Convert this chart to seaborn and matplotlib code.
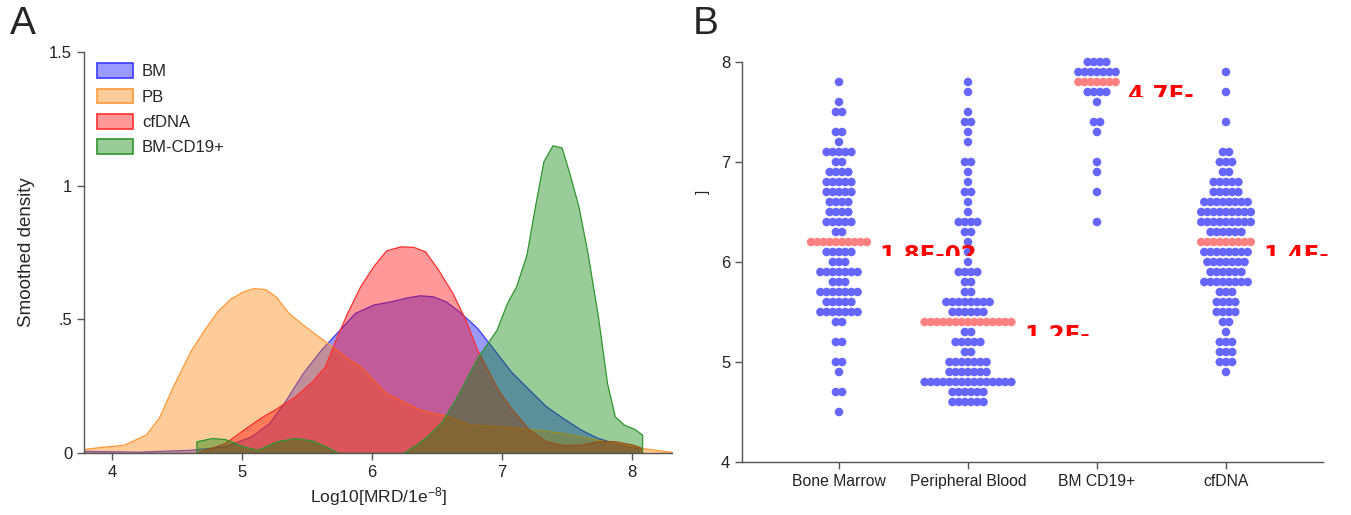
import numpy as np
import pandas as pd
import matplotlib
matplotlib.use("Agg")
import matplotlib.pyplot as plt
import seaborn as sns
from matplotlib.patches import Patch, Rectangle

# ---------------- Panel A data (smoothed densities) ----------------
series_names = ["BM", "PB", "cfDNA", "BM-CD19+"]
bm_x = [3.79, 4.2, 4.6, 4.87, 5.07, 5.21, 5.34, 5.47, 5.61, 5.74, 5.87, 6.01, 6.14, 6.27, 6.37,
        6.47, 6.57, 6.67, 6.81, 6.94, 7.07, 7.21, 7.34, 7.47, 7.61, 7.74, 7.87, 8.01, 8.05]
bm_y = [0.008, 0.005, 0.012, 0.025, 0.062, 0.112, 0.2, 0.3, 0.387, 0.455, 0.524, 0.555, 0.567, 0.582,
        0.59, 0.586, 0.567, 0.53, 0.468, 0.387, 0.305, 0.237, 0.175, 0.131, 0.087, 0.056, 0.037, 0.022, 0.018]
pb_x = [3.785, 3.9, 4.09, 4.26, 4.36, 4.47, 4.61, 4.71, 4.81, 4.91, 5.01, 5.09, 5.18, 5.26, 5.36, 5.47,
        5.57, 5.71, 5.81, 5.91, 6.01, 6.11, 6.24, 6.37, 6.47, 6.57, 6.76, 6.91, 7.07, 7.27, 7.47, 7.67,
        7.87, 8.07, 8.31]
pb_y = [0.015, 0.022, 0.031, 0.069, 0.131, 0.25, 0.387, 0.461, 0.53, 0.577, 0.605, 0.617, 0.613, 0.586,
        0.524, 0.48, 0.443, 0.393, 0.355, 0.324, 0.274, 0.224, 0.193, 0.162, 0.15, 0.14, 0.106, 0.102,
        0.096, 0.087, 0.075, 0.056, 0.037, 0.019, 0.004]
cf_x = [4.65, 4.71, 4.87, 5.01, 5.14, 5.27, 5.41, 5.54, 5.64, 5.72, 5.81, 5.91, 6.01, 6.11, 6.22, 6.32,
        6.41, 6.51, 6.62, 6.72, 6.81, 6.89, 6.97, 7.07, 7.21, 7.34, 7.47, 7.61, 7.74, 7.87, 8.01, 8.07]
cf_y = [0.0, 0.01, 0.037, 0.087, 0.131, 0.168, 0.212, 0.268, 0.324, 0.424, 0.524, 0.623, 0.698, 0.758,
        0.773, 0.771, 0.754, 0.686, 0.599, 0.499, 0.387, 0.312, 0.237, 0.168, 0.087, 0.044, 0.029, 0.031,
        0.044, 0.044, 0.031, 0.02]
cd_x = [4.65, 4.65, 4.77, 4.87, 5.01, 5.12, 5.27, 5.41, 5.54, 5.67, 5.74, 6.24, 6.34, 6.44, 6.54, 6.67,
        6.81, 6.96, 7.04, 7.11, 7.19, 7.26, 7.32, 7.39, 7.46, 7.52, 7.59, 7.66, 7.74, 7.81, 7.87, 7.94,
        8.02, 8.08]
cd_y = [0.0, 0.044, 0.056, 0.052, 0.025, 0.012, 0.044, 0.056, 0.047, 0.019, 0.0, 0.0, 0.031, 0.069,
        0.118, 0.224, 0.355, 0.461, 0.561, 0.623, 0.742, 0.935, 1.091, 1.151, 1.143, 1.047, 0.923, 0.748,
        0.511, 0.262, 0.137, 0.106, 0.09, 0.069]

# ---------------- Panel B data (dot plot: value levels and number of dots) ----------------
groups = ["Bone Marrow", "Peripheral Blood", "BM CD19+", "cfDNA"]
bm_levels = [7.8, 7.6, 7.5, 7.3, 7.2, 7.1, 7.0, 6.9, 6.8, 6.7, 6.6, 6.5, 6.4, 6.3, 6.2, 6.1, 6.0,
             5.9, 5.8, 5.7, 5.6, 5.5, 5.4, 5.2, 5.0, 4.9, 4.7, 4.5]
bm_counts = [1, 1, 2, 2, 1, 5, 2, 4, 5, 5, 4, 4, 5, 2, 10, 5, 3, 7, 3, 7, 5, 7, 2, 2, 2, 1, 2, 1]
pb_levels = [7.8, 7.7, 7.5, 7.4, 7.3, 7.2, 7.0, 6.9, 6.8, 6.7, 6.6, 6.5, 6.4, 6.3, 6.2, 6.1, 6.0,
             5.9, 5.8, 5.7, 5.6, 5.5, 5.4, 5.3, 5.2, 5.1, 5.0, 4.9, 4.8, 4.7, 4.6]
pb_counts = [1, 1, 1, 2, 1, 1, 2, 1, 1, 2, 1, 1, 4, 2, 1, 1, 1, 4, 2, 2, 8, 6, 15, 2, 5, 2, 7, 7, 15, 6, 6]
cd19_levels = [8.0, 7.9, 7.8, 7.7, 7.6, 7.4, 7.3, 7.0, 6.9, 6.7, 6.4]
cd19_counts = [4, 7, 7, 4, 1, 2, 1, 1, 1, 1, 1]
cfdna_levels = [7.9, 7.7, 7.4, 7.1, 7.0, 6.9, 6.8, 6.7, 6.6, 6.5, 6.4, 6.3, 6.2, 6.1, 6.0, 5.9, 5.8,
                5.7, 5.6, 5.5, 5.4, 5.3, 5.2, 5.1, 5.0, 4.9]
cfdna_counts = [1, 1, 1, 2, 3, 2, 5, 5, 8, 9, 9, 6, 9, 8, 7, 6, 8, 3, 4, 4, 2, 1, 3, 3, 3, 1]
pvalue_labels = ["1.8E-02", "1.2E-", "4.7E-", "1.4E-"]
y_ticks_b = [4, 5, 6, 7, 8]

# ---------------- style ----------------
sns.set_theme(style="ticks")
plt.rcParams["font.family"] = ["Liberation Sans Narrow", "Liberation Sans", "DejaVu Sans"]
plt.rcParams["mathtext.default"] = "regular"
AX_COL = "#555555"

fig = plt.figure(figsize=(13.51, 5.15), dpi=100)
W, H = 1351, 515
axA = fig.add_axes([84 / W, 1 - 453 / H, 588 / W, 401 / H])
axB = fig.add_axes([742 / W, 1 - 462 / H, 581 / W, 400 / H])

# ---------------- Panel A ----------------
dens = [(bm_x, bm_y), (pb_x, pb_y), (cf_x, cf_y), (cd_x, cd_y)]
fills = ["#0000ff", "#ff8000", "#ff0000", "#008000"]
edges = ["#3a3aff", "#ff9a3a", "#ff3030", "#2e962e"]
for (xs, ys), fc, ec in zip(dens, fills, edges):
    axA.fill_between(xs, ys, 0, facecolor=matplotlib.colors.to_rgba(fc, 0.4),
                     edgecolor=ec, linewidth=0.9)
axA.set_xlim(3.785, 8.31)
axA.set_ylim(0, 1.5)
axA.set_xticks([4, 5, 6, 7, 8])
axA.set_yticks([0, 0.5, 1, 1.5])
axA.set_yticklabels(["0", ".5", "1", "1.5"])
axA.set_xlabel("Log10[MRD/1e$^{-8}$]", fontsize=12.5, labelpad=4)
axA.set_ylabel("Smoothed density", fontsize=13.5, family=["Liberation Sans", "DejaVu Sans"], labelpad=10)
handles = [Patch(facecolor=matplotlib.colors.to_rgba(fc, 0.4), edgecolor=ec, linewidth=1.2)
           for fc, ec in zip(fills, edges)]
axA.legend(handles, series_names, loc="upper left", bbox_to_anchor=(13 / 588, 0.972),
           frameon=False, fontsize=12, handlelength=2.15, handleheight=1.0,
           handletextpad=0.55, labelspacing=0.55, borderpad=0, borderaxespad=0)

# ---------------- Panel B ----------------
dx = 0.048
rows = []
all_levels = [bm_levels, pb_levels, cd19_levels, cfdna_levels]
all_counts = [bm_counts, pb_counts, cd19_counts, cfdna_counts]
medians = []
for gi, (lev, cnt) in enumerate(zip(all_levels, all_counts)):
    med = float(np.median(np.repeat(lev, cnt)))
    medians.append(med)
    for v, n in zip(lev, cnt):
        for k in range(n):
            rows.append({"x": gi + (k - (n - 1) / 2) * dx, "value": v,
                         "is_med": bool(np.isclose(v, med))})
df = pd.DataFrame(rows)
sns.scatterplot(data=df, x="x", y="value", hue="is_med",
                palette={False: "#6666ff", True: "#ff8080"}, s=38, linewidth=0,
                legend=False, ax=axB, clip_on=False, zorder=3)

for gi, (lev, cnt) in enumerate(zip(all_levels, all_counts)):
    med = medians[gi]
    n_med = [n for v, n in zip(lev, cnt) if np.isclose(v, med)][0]
    xt = gi + (n_med - 1) / 2 * dx + 0.1
    yt = med - 0.02
    t = axB.text(xt, yt, pvalue_labels[gi], color="#ff0000", fontsize=16.5, fontweight="bold",
                 family=["DejaVu Sans"], ha="left", va="top", clip_on=True, zorder=5)
    t.set_clip_path(Rectangle((xt - 0.2, yt - 0.125), 1.5, 0.5, transform=axB.transData))

axB.set_xlim(-0.752, 3.752)
axB.set_ylim(4, 8)
axB.set_xticks(range(len(groups)))
axB.set_xticklabels(groups)
axB.set_yticks(y_ticks_b)
axB.set_yticklabels([str(v) for v in y_ticks_b])
axB.set_xlabel("")
axB.set_ylabel("")

for ax in (axA, axB):
    sns.despine(ax=ax)
    for sp in ("left", "bottom"):
        ax.spines[sp].set_color(AX_COL)
        ax.spines[sp].set_linewidth(1.0)
    ax.tick_params(axis="both", colors=AX_COL, labelcolor="#222222", length=5, width=1.0,
                   labelsize=12)
    ax.set_facecolor("white")
axB.tick_params(axis="x", labelsize=11.3)

# panel letters and clipped remnant of the B y-title
fig.text(10 / W, 1 - 24 / H, "A", fontsize=28, family=["Liberation Sans", "DejaVu Sans"],
         ha="left", va="center")
fig.text(693 / W, 1 - 24 / H, "B", fontsize=28, family=["Liberation Sans", "DejaVu Sans"],
         ha="left", va="center")
fig.text(703 / W, 1 - 192 / H, "]", fontsize=11, rotation=90, ha="center", va="center",
         color="#222222")

fig.savefig("out.png", dpi=100, facecolor="white")
